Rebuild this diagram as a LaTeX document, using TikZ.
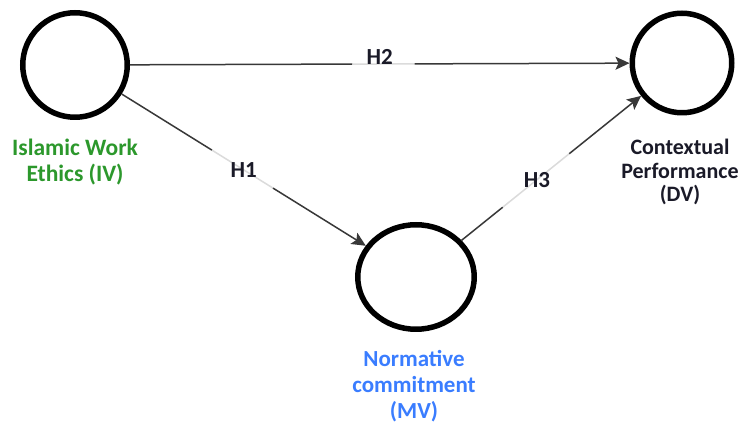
\documentclass[tikz,border=0pt]{standalone}
\usepackage{fontspec}
\setmainfont{Carlito}
\usetikzlibrary{arrows.meta,shapes.geometric}
\definecolor{ivgreen}{RGB}{44,152,44}
\definecolor{mvblue}{RGB}{58,125,255}
\definecolor{inkdark}{RGB}{26,26,40}
\tikzset{
  construct/.style={circle,draw=black,line width=5.5pt,fill=white,inner sep=0pt},
  link/.style={draw=black!78,line width=1.5pt},
  faint/.style={draw=black!14,line width=1.5pt},
  tip/.style={-{Stealth[length=14pt,width=13pt,inset=3pt]}},
  caption/.style={font=\bfseries\fontsize{23.5}{26}\selectfont,align=center,inner sep=0pt},
  hyp/.style={font=\bfseries\fontsize{23}{25}\selectfont,text=inkdark,inner sep=0pt}
}
\begin{document}
\begin{tikzpicture}[x=1pt,y=-1pt]
  \useasboundingbox[fill=white] (0,0) rectangle (739,427);

  % latent constructs
  \node[construct,minimum size=104.5pt] (iv) at (75,65) {};
  \node[construct,minimum size=99.5pt] (dv) at (682,63) {};
  \node[construct,ellipse,minimum width=116.5pt,minimum height=104.5pt] (mv) at (416,277) {};

  % construct captions
  \node[caption,text=ivgreen,anchor=north] (ivlab) at (75,139) {Islamic Work\\Ethics (IV)};
  \node[caption,text=inkdark,anchor=north,font=\bfseries\fontsize{22}{23.5}\selectfont] (dvlab) at (680,139) {Contextual\\Performance\\(DV)};
  \node[caption,text=mvblue,anchor=north,font=\bfseries\fontsize{23}{26}\selectfont] (mvlab) at (414,350) {Normative\\commitment\\(MV)};

  % H2: IV -> DV
  \path (iv) -- (dv)
    coordinate[pos=.445] (a2) coordinate[pos=.57] (b2)
    coordinate[pos=.50] (m2);
  \draw[link] (iv) -- (a2);
  \draw[faint] (a2) -- (b2);
  \draw[link,tip] (b2) -- (dv);
  \node[hyp,anchor=south] (h2) at ([yshift=-1pt]m2) {H2};

  % H1: IV -> MV
  \path (iv) -- (mv)
    coordinate[pos=.37] (a1) coordinate[pos=.62] (b1)
    coordinate[pos=.50] (m1);
  \draw[link] (iv) -- (a1);
  \draw[faint] (a1) -- (b1);
  \draw[link,tip] (b1) -- (mv);
  \node[hyp] (h1) at (m1) {H1};

  % H3: MV -> DV
  \path (mv) -- (dv)
    coordinate[pos=.23] (a3) coordinate[pos=.60] (b3)
    coordinate[pos=.42] (m3);
  \draw[link] (mv) -- (a3);
  \draw[faint] (a3) -- (b3);
  \draw[link,tip] (b3) -- (dv);
  \node[hyp] (h3) at (m3) {H3};
\end{tikzpicture}
\end{document}
